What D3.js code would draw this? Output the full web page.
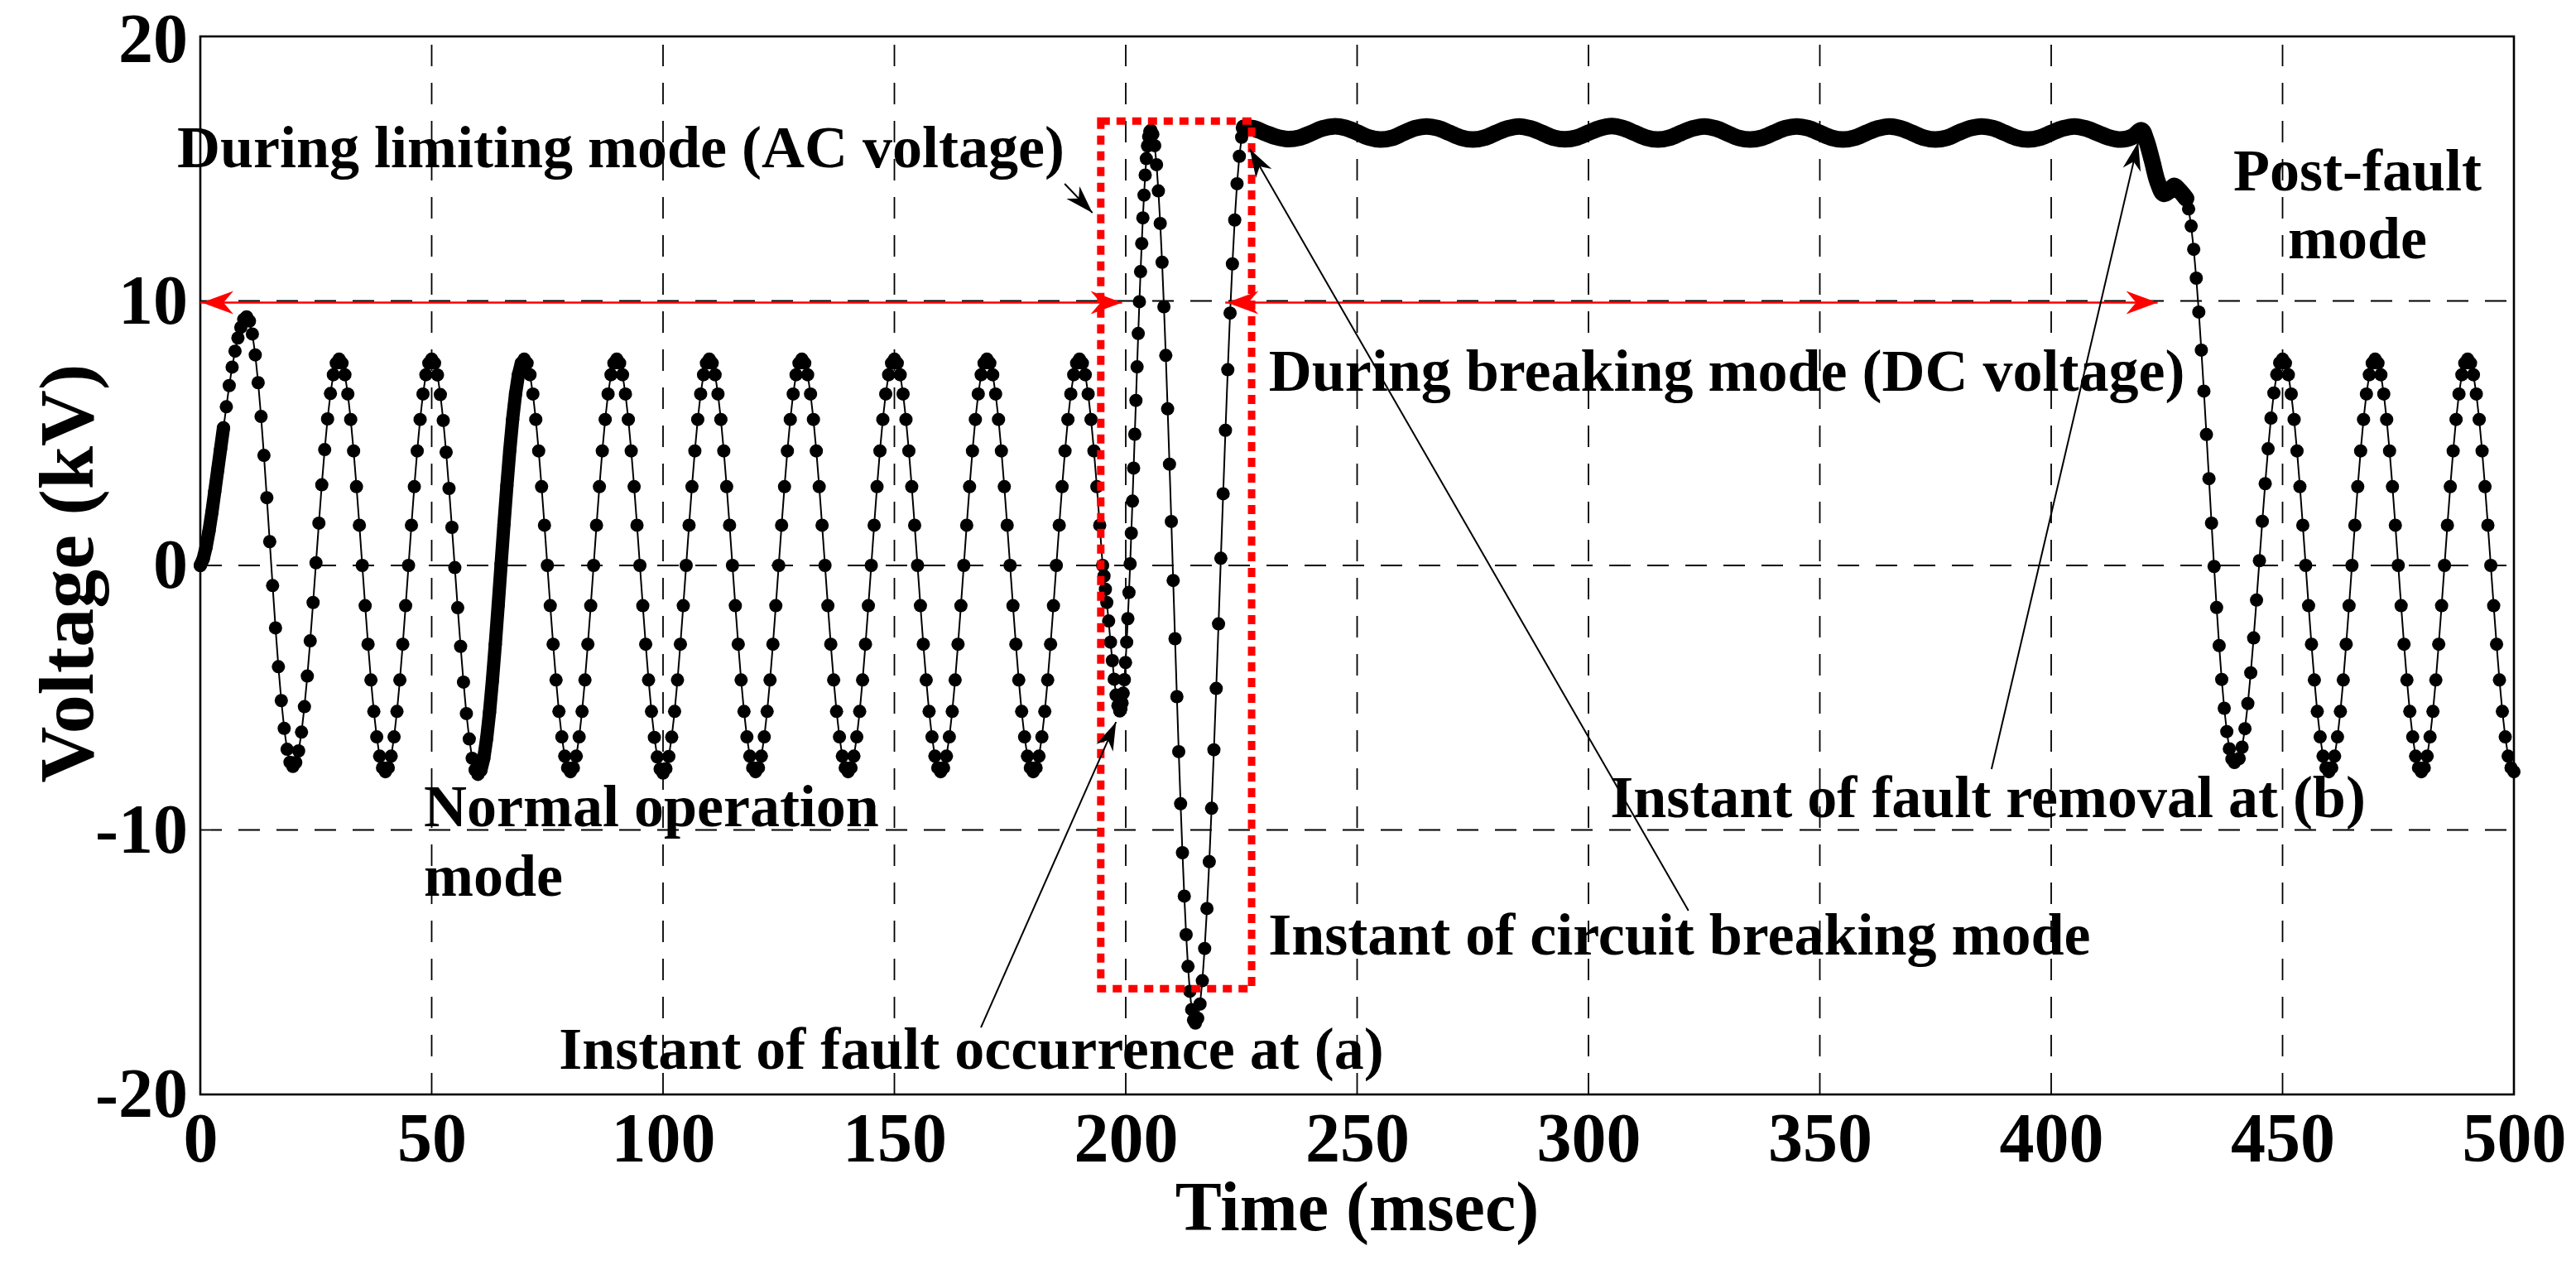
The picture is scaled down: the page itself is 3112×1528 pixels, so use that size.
<!DOCTYPE html>
<html>
<head>
<meta charset="utf-8">
<script src="https://cdn.jsdelivr.net/npm/d3@7"></script>
<style>
  body { margin: 0; background: #fff; }
  text { font-family: "Liberation Serif", "Times New Roman", serif; font-weight: bold; fill: #000; }
</style>
</head>
<body>
<svg id="chart"></svg>
<script>
// axis ticks
const xTicks = [0, 50, 100, 150, 200, 250, 300, 350, 400, 450, 500];
const yTicks = [-20, -10, 0, 10, 20];

// normal operation, sampled every 0.625 ms from t = 0 to 195 ms (kV)
const normalStart = 0, normalStep = 0.625;
const normalV = [
  0, 0.25, 0.7, 1.3, 2.0, 2.8, 3.6, 4.4, 5.2, 6.0, 6.8, 7.5, 8.1, 8.6, 9.0, 9.3, 9.4,
  9.24, 8.75, 7.96, 6.91, 5.63, 4.16, 2.56, 0.9, -0.76, -2.36, -3.83, -5.11, -6.16, -6.95, -7.44, -7.6,
  -7.45, -7.01, -6.3, -5.34, -4.18, -2.85, -1.4, 0.1, 1.6, 3.05, 4.38, 5.54, 6.5, 7.21, 7.65, 7.8,
  7.65, 7.21, 6.48, 5.52, 4.33, 2.98, 1.52, 0, -1.52, -2.98, -4.33, -5.52, -6.48, -7.21, -7.65, -7.8,
  -7.65, -7.21, -6.48, -5.52, -4.33, -2.98, -1.52, 0, 1.52, 2.98, 4.33, 5.52, 6.48, 7.21, 7.65, 7.8,
  7.65, 7.2, 6.46, 5.48, 4.28, 2.91, 1.44, -0.08, -1.6, -3.06, -4.41, -5.6, -6.56, -7.29, -7.73, -7.9,
  -7.75, -7.3, -6.55, -5.56, -4.35, -2.98, -1.5, 0.04, 1.56, 3.01, 4.35, 5.53, 6.49, 7.21, 7.65, 7.8,
  7.65, 7.21, 6.48, 5.52, 4.33, 2.98, 1.52, 0, -1.52, -2.98, -4.33, -5.52, -6.48, -7.21, -7.65, -7.8,
  -7.65, -7.21, -6.48, -5.52, -4.33, -2.98, -1.52, 0, 1.52, 2.98, 4.33, 5.52, 6.48, 7.21, 7.65, 7.8,
  7.65, 7.21, 6.48, 5.52, 4.33, 2.98, 1.52, 0, -1.52, -2.98, -4.33, -5.52, -6.5, -7.24, -7.7, -7.85,
  -7.68, -7.22, -6.49, -5.52, -4.33, -2.98, -1.52, 0, 1.52, 2.98, 4.33, 5.52, 6.48, 7.21, 7.65, 7.8,
  7.65, 7.21, 6.48, 5.52, 4.33, 2.98, 1.52, 0, -1.52, -2.98, -4.33, -5.52, -6.48, -7.21, -7.65, -7.8,
  -7.65, -7.21, -6.48, -5.52, -4.33, -2.98, -1.52, 0, 1.52, 2.98, 4.33, 5.52, 6.48, 7.21, 7.65, 7.8,
  7.65, 7.21, 6.48, 5.52, 4.33, 2.98, 1.52, 0, -1.52, -2.98, -4.33, -5.52, -6.48, -7.21, -7.65, -7.8,
  -7.65, -7.21, -6.48, -5.52, -4.33, -2.98, -1.52, 0, 1.52, 2.98, 4.33, 5.52, 6.48, 7.21, 7.65, 7.8,
  7.65, 7.21, 6.48, 5.52, 4.33, 2.98, 1.52, 0, -1.52, -2.98, -4.33, -5.52, -6.48, -7.21, -7.65, -7.8,
  -7.65, -7.21, -6.48, -5.52, -4.33, -2.98, -1.52, 0, 1.52, 2.98, 4.33, 5.52, 6.48, 7.21, 7.65, 7.8,
  7.65, 7.21, 6.48, 5.52, 4.33, 2.98, 1.52, 0, -1.52, -2.98, -4.33, -5.52, -6.48, -7.21, -7.65, -7.8,
  -7.65, -7.21, -6.48, -5.52, -4.33, -2.98, -1.52, 0, 1.52, 2.98, 4.33, 5.52, 6.48, 7.21, 7.65, 7.8,
  7.65, 7.21, 6.48, 5.52, 4.33, 2.98, 1.52, 0
];
// densely sampled stretches of the normal trace (ms)
const denseSpans = [[0, 5.5], [60.3, 69.4]];

// fault onset (ms, kV)
const onsetT = [195.3, 195.6, 195.9, 196.3, 196.7, 197.1, 197.5, 197.9, 198.3];
const onsetV = [-0.4, -0.9, -1.4, -2.1, -2.9, -3.6, -4.3, -4.9, -5.3];
// limiting mode swing
const riseStart = 198.7, riseStep = 0.25;
const riseV = [-5.5, -5.42, -5.2, -4.83, -4.32, -3.67, -2.9, -2.01, -1.02, 0.06, 1.22, 2.43, 3.68, 4.96,
  6.24, 7.51, 8.77, 9.97, 11.11, 12.17, 13.14, 14.0, 14.76, 15.38, 15.86, 16.21, 16.4, 16.45];
const fallStart = 205.85, fallStep = 0.4;
const fallV = [16.3, 15.87, 15.15, 14.16, 12.93, 11.46, 9.78, 7.94, 5.92, 3.83, 1.66, -0.57, -2.77, -4.96,
  -7.04, -9.01, -10.86, -12.5, -13.96, -15.16, -16.1, -16.79, -17.19, -17.3];
const recoverStart = 215.55, recoverStep = 0.5;
const recoverV = [-17.12, -16.58, -15.7, -14.48, -12.97, -11.2, -9.18, -6.97, -4.65, -2.21, 0.27, 2.71,
  5.11, 7.4, 9.54, 11.4, 13.06, 14.43, 15.47, 16.19, 16.55];

// breaking mode plateau, every 2.5 ms from 227.5 ms
const plateauStart = 227.5, plateauStep = 2.5;
const plateauV = [
  16.53, 16.36, 16.2, 16.12, 16.17, 16.34, 16.52, 16.6,
  16.54, 16.37, 16.18, 16.1, 16.16, 16.35, 16.53, 16.6,
  16.53, 16.35, 16.17, 16.1, 16.17, 16.35, 16.52, 16.6,
  16.52, 16.35, 16.17, 16.11, 16.18, 16.36, 16.53, 16.61,
  16.53, 16.35, 16.17, 16.1, 16.17, 16.35, 16.52, 16.6,
  16.52, 16.34, 16.16, 16.1, 16.17, 16.35, 16.53, 16.6,
  16.53, 16.35, 16.17, 16.1, 16.17, 16.35, 16.52, 16.6,
  16.52, 16.35, 16.17, 16.1, 16.17, 16.36, 16.53, 16.6,
  16.53, 16.35, 16.17, 16.1, 16.17, 16.35, 16.52, 16.6,
  16.52, 16.35, 16.18, 16.1, 16.2
];
// fault removal
const removalT = [419.5, 420.5, 421.8, 423, 424.3, 425.5, 426.6, 427.6, 428.6];
const removalV = [16.45, 16.1, 15.3, 14.5, 14.05, 14.15, 14.35, 14.2, 14.0];

// post-fault
const postFallStart = 429.15, postFallStep = 0.55;
const postFallV = [13.87, 13.48, 12.83, 11.95, 10.86, 9.58, 8.14, 6.59, 4.95, 3.28, 1.6, -0.04, -1.59,
  -3.03, -4.31, -5.4, -6.28, -6.93, -7.32, -7.45];
const postStart = 440.625, postStep = 0.625;
const postV = [
  -7.3, -6.87, -6.17, -5.22, -4.06, -2.74, -1.31, 0.18, 1.67, 3.09, 4.41, 5.57, 6.52, 7.22, 7.66, 7.8,
  7.65, 7.21, 6.48, 5.52, 4.33, 2.98, 1.52, 0, -1.52, -2.98, -4.33, -5.52, -6.48, -7.21, -7.65, -7.8,
  -7.65, -7.21, -6.48, -5.52, -4.33, -2.98, -1.52, 0, 1.52, 2.98, 4.33, 5.52, 6.48, 7.21, 7.65, 7.8,
  7.65, 7.21, 6.48, 5.52, 4.33, 2.98, 1.52, 0, -1.52, -2.98, -4.33, -5.52, -6.48, -7.21, -7.65, -7.8,
  -7.65, -7.21, -6.48, -5.52, -4.33, -2.98, -1.52, 0, 1.52, 2.98, 4.33, 5.52, 6.48, 7.21, 7.65, 7.8,
  7.65, 7.21, 6.48, 5.52, 4.33, 2.98, 1.52, 0, -1.52, -2.98, -4.33, -5.52, -6.48, -7.21, -7.65, -7.8
];

// annotations, in data units (ms, kV)
const labelTexts = ["During limiting mode (AC voltage)", "During breaking mode (DC voltage)",
  "Normal operation", "mode", "Instant of circuit breaking mode", "Instant of fault occurrence at (a)",
  "Instant of fault removal at (b)", "Post-fault", "mode"];
const labelT = [-5.0, 230.9, 48.3, 48.3, 230.8, 77.5, 304.7, 466.2, 466.2];
const labelV = [15.05, 6.6, -9.86, -12.49, -14.7, -19.03, -9.51, 14.18, 11.6];
const labelAnchor = ["start", "start", "start", "start", "start", "start", "start", "middle", "middle"];

const boxT = [194.6, 227.2], boxV = [-16.0, 16.8];
const redArrowV = 10;
const redArrowT = [[0, 199.2], [221.5, 423]];
// black pointers: [from t, from v, tip t, tip v]
const pointers = [
  [186.8, 14.43, 192.8, 13.33],
  [168.7, -17.47, 197.9, -5.92],
  [321.6, -13.05, 226.8, 15.74],
  [387.1, -7.7, 418.8, 16.0]
];

const W = 3112, H = 1528;
const svg = d3.select("#chart").attr("width", W).attr("height", H);

let x = d3.scaleLinear().domain([0, 500]).range([242, 3037]);
let y = d3.scaleLinear().domain([-20, 20]).range([1322, 44]);

// grid
svg.append("g")
    .selectAll("line.vg")
    .data(xTicks.slice(1, -1))
    .enter().append("line")
      .attr("x1", d => x(d)).attr("x2", d => x(d))
      .attr("y1", y(-20)).attr("y2", y(20))
      .attr("stroke", "#000").attr("stroke-width", 1.8)
      .attr("stroke-dasharray", "26,20");
svg.append("g")
    .selectAll("line.hg")
    .data(yTicks.slice(1, -1))
    .enter().append("line")
      .attr("x1", x(0)).attr("x2", x(500))
      .attr("y1", d => y(d)).attr("y2", d => y(d))
      .attr("stroke", "#000").attr("stroke-width", 1.8)
      .attr("stroke-dasharray", "26,20");

// axes (labels only), frame
let xAxis = svg.append("g")
    .attr("transform", `translate(0,${y(-20)})`)
    .call(d3.axisBottom(x).tickValues(xTicks).tickSize(0).tickPadding(21).tickFormat(d => String(d)));
let yAxis = svg.append("g")
    .attr("transform", `translate(${x(0)},0)`)
    .call(d3.axisLeft(y).tickValues(yTicks).tickSize(0).tickPadding(15).tickFormat(d => String(d)));
[xAxis, yAxis].forEach(a => {
  a.select(".domain").remove();
  a.selectAll("text").attr("font-size", 84).style("font-family", '"Liberation Serif", serif').style("font-weight", "bold");
});
// keep the top label inside the page
yAxis.selectAll(".tick").filter(d => d === 20).select("text").attr("dy", "0.36em");

svg.append("rect")
    .attr("x", x(0)).attr("y", y(20))
    .attr("width", x(500) - x(0)).attr("height", y(-20) - y(20))
    .attr("fill", "none").attr("stroke", "#000").attr("stroke-width", 2.6);

svg.append("text")
    .attr("x", x(250)).attr("y", 1486)
    .attr("text-anchor", "middle").attr("font-size", 84)
    .text("Time (msec)");
svg.append("text")
    .attr("transform", `translate(112,${y(-0.3)}) rotate(-90)`)
    .attr("text-anchor", "middle").attr("font-size", 94)
    .text("Voltage (kV)");

// build the series
const seq = (t0, dt, vals) => vals.map((v, i) => [t0 + i * dt, v]);
const normalPts = seq(normalStart, normalStep, normalV);
const onsetPts = onsetT.map((t, i) => [t, onsetV[i]]);
const faultPts = onsetPts
    .concat(seq(riseStart, riseStep, riseV))
    .concat(seq(fallStart, fallStep, fallV))
    .concat(seq(recoverStart, recoverStep, recoverV));
const plateauPts = seq(plateauStart, plateauStep, plateauV);
const removalPts = removalT.map((t, i) => [t, removalV[i]]);
const postPts = seq(postFallStart, postFallStep, postFallV).concat(seq(postStart, postStep, postV));

const dotted = normalPts.concat(faultPts, postPts);
const bandPts = [faultPts[faultPts.length - 1]].concat(plateauPts, removalPts, [postPts[0]]);
const allPts = normalPts.concat(faultPts, plateauPts, removalPts, postPts).sort((a, b) => a[0] - b[0]);

let line = d3.line().x(d => x(d[0])).y(d => y(d[1]));

let plot = svg.append("g");
plot.append("path")
    .attr("d", line(allPts))
    .attr("fill", "none").attr("stroke", "#000").attr("stroke-width", 2);

// dense stretches look like a solid band
denseSpans.forEach(s => {
  plot.append("path")
      .attr("d", line(normalPts.filter(p => p[0] >= s[0] && p[0] <= s[1])))
      .attr("fill", "none").attr("stroke", "#000").attr("stroke-width", 16)
      .attr("stroke-linecap", "round").attr("stroke-linejoin", "round");
});
plot.append("path")
    .attr("d", line.curve(d3.curveCatmullRom)(bandPts))
    .attr("fill", "none").attr("stroke", "#000").attr("stroke-width", 20)
    .attr("stroke-linecap", "round").attr("stroke-linejoin", "round");
line.curve(d3.curveLinear);

plot.selectAll("circle")
    .data(dotted)
    .enter().append("circle")
      .attr("cx", d => x(d[0]))
      .attr("cy", d => y(d[1]))
      .attr("r", 8)
      .attr("fill", "#000");

// red dotted box
svg.append("rect")
    .attr("x", x(boxT[0])).attr("y", y(boxV[1]))
    .attr("width", x(boxT[1]) - x(boxT[0])).attr("height", y(boxV[0]) - y(boxV[1]))
    .attr("fill", "none").attr("stroke", "#ff0000").attr("stroke-width", 9)
    .attr("stroke-dasharray", "11,8");

function arrowHead(sel, x1, y1, x2, y2, len, half, notch, color) {
  let a = Math.atan2(y2 - y1, x2 - x1);
  let pts = [[0, 0], [-len, -half], [-notch, 0], [-len, half]].map(([u, v]) =>
    [x2 + u * Math.cos(a) - v * Math.sin(a), y2 + u * Math.sin(a) + v * Math.cos(a)]);
  sel.append("path").attr("d", "M" + pts.join("L") + "Z").attr("fill", color);
}

// red double arrows along 10 kV
let red = svg.append("g");
redArrowT.forEach(r => {
  let x1 = x(r[0]), x2 = x(r[1]), yy = y(redArrowV) + 2;
  red.append("line")
      .attr("x1", x1).attr("x2", x2).attr("y1", yy).attr("y2", yy)
      .attr("stroke", "#ff0000").attr("stroke-width", 2.5);
  arrowHead(red, x2, yy, x1 + 2, yy, 38, 14, 26, "#ff0000");
  arrowHead(red, x1, yy, x2, yy, 38, 14, 26, "#ff0000");
});

// black pointers
let ptr = svg.append("g");
pointers.forEach(p => {
  let x1 = x(p[0]), y1 = y(p[1]), x2 = x(p[2]), y2 = y(p[3]);
  ptr.append("line")
      .attr("x1", x1).attr("y1", y1).attr("x2", x2).attr("y2", y2)
      .attr("stroke", "#000").attr("stroke-width", 2);
  arrowHead(ptr, x1, y1, x2, y2, 34, 11, 24, "#000");
});

// annotation texts
svg.append("g")
    .selectAll("text")
    .data(labelTexts)
    .enter().append("text")
      .attr("x", (d, i) => x(labelT[i]))
      .attr("y", (d, i) => y(labelV[i]))
      .attr("text-anchor", (d, i) => labelAnchor[i])
      .attr("font-size", 72)
      .text(d => d);
</script>
</body>
</html>
